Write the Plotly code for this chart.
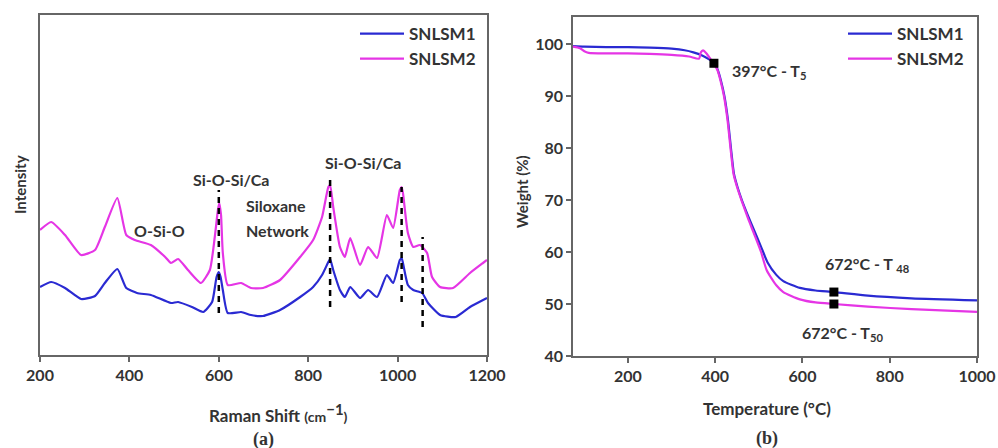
import plotly.graph_objects as go

# ---------------- Raman data (a) ----------------
raman_shift_2 = [200, 225, 256, 292, 323, 345, 373, 393, 412, 448, 480, 493, 509, 531, 560, 580, 591, 598, 601,
                 605, 609, 620, 650, 672, 699, 737, 782, 811, 831, 845, 849, 856, 871, 882, 894, 916, 934, 954,
                 976, 990, 1005, 1009, 1012, 1023, 1035, 1050, 1066, 1077, 1095, 1124, 1162, 1191, 1200]
snlsm2_int = [125, 133, 120, 100, 105, 128, 157, 120, 115, 110, 98, 92, 96, 85, 72, 85, 118, 145, 152,
              140, 102, 70, 72, 67, 67, 75, 98, 115, 138, 168, 170, 148, 108, 98, 117, 90, 108, 97,
              140, 127, 165, 168, 162, 122, 108, 110, 102, 78, 68, 67, 82, 92, 95]

raman_shift_1 = [200, 225, 256, 292, 323, 345, 373, 393, 417, 448, 493, 509, 540, 565, 585, 595, 600, 604,
                 609, 620, 650, 672, 699, 737, 782, 811, 831, 845, 849, 856, 871, 882, 894, 916, 934, 954,
                 976, 990, 1005, 1009, 1012, 1023, 1035, 1055, 1068, 1095, 1130, 1162, 1200]
snlsm1_int = [68, 73, 67, 56, 59, 72, 86, 67, 62, 60, 52, 53, 48, 43, 53, 78, 83, 78,
              65, 42, 43, 40, 39, 45, 58, 68, 80, 93, 96, 85, 65, 58, 68, 57, 65, 58,
              80, 72, 95, 97, 92, 70, 65, 62, 52, 40, 38, 48, 57]

peak_pos = [600, 849, 1009, 1056]
peak_top = [165, 178, 168, 118]
peak_bottom = [42, 48, 53, 28]

band_labels = ["O-Si-O", "Si-O-Si/Ca", "Siloxane", "Network", "Si-O-Si/Ca"]
band_x = [468, 627, 728, 732, 923]
band_y = [125, 176, 150, 125, 193]

# ---------------- TGA data (b) ----------------
temp_1 = [74, 100, 150, 200, 250, 300, 330, 350, 370, 385, 397, 405, 413, 421, 429, 436, 443, 451, 461,
          476, 491, 506, 520, 540, 556, 594, 630, 672, 750, 850, 1000]
weight_1 = [99.6, 99.5, 99.4, 99.4, 99.3, 99.1, 98.8, 98.4, 97.8, 97.1, 96.4, 95.2, 93.0, 90.0, 85.5, 80.0,
            75.0, 72.5, 70.0, 66.8, 63.8, 60.8, 58.0, 55.6, 54.4, 53.1, 52.6, 52.3, 51.6, 51.1, 50.7]

temp_2 = [74, 90, 100, 110, 150, 200, 250, 300, 340, 363, 367, 372, 380, 390, 397, 405, 412, 420, 428,
          435, 442, 450, 460, 475, 490, 505, 518, 540, 556, 594, 630, 672, 750, 850, 1000]
weight_2 = [99.5, 99.2, 98.6, 98.3, 98.2, 98.2, 98.1, 97.9, 97.6, 97.2, 98.4, 98.8, 98.2, 97.0, 96.2, 95.0,
            93.0, 90.0, 85.5, 80.0, 75.0, 72.5, 70.0, 66.5, 63.3, 60.0, 56.5, 53.6, 52.3, 50.9, 50.3, 50.0,
            49.5, 49.0, 48.5]

mark_t = [397, 672, 672]
mark_w = [96.3, 52.3, 50.0]

tga_labels = ["397°C - T<sub>5</sub>", "672°C - T <sub>48</sub>", "672°C - T<sub>50</sub>"]
tga_lx = [434, 647, 594]
tga_ly = [94.8, 57.6, 44.4]

BLUE = "#2a2ad2"
PINK = "#e535e5"
TXT = "#333333"
FONT = "Lato"

fig = go.Figure()

# Left panel
fig.add_trace(go.Scatter(x=raman_shift_1, y=snlsm1_int, mode="lines", name="SNLSM1",
                         line=dict(color=BLUE, width=2.2, shape="spline", smoothing=0.5),
                         xaxis="x", yaxis="y", legend="legend"))
fig.add_trace(go.Scatter(x=raman_shift_2, y=snlsm2_int, mode="lines", name="SNLSM2",
                         line=dict(color=PINK, width=2.2, shape="spline", smoothing=0.5),
                         xaxis="x", yaxis="y", legend="legend"))
for px, pt, pb in zip(peak_pos, peak_top, peak_bottom):
    fig.add_trace(go.Scatter(x=[px, px], y=[pb, pt], mode="lines", showlegend=False,
                             line=dict(color="black", width=2.5, dash="6px,5px"),
                             xaxis="x", yaxis="y"))

# Right panel
fig.add_trace(go.Scatter(x=temp_1, y=weight_1, mode="lines", name="SNLSM1",
                         line=dict(color=BLUE, width=2.2, shape="spline", smoothing=0.6),
                         xaxis="x2", yaxis="y2", legend="legend2"))
fig.add_trace(go.Scatter(x=temp_2, y=weight_2, mode="lines", name="SNLSM2",
                         line=dict(color=PINK, width=2.2, shape="spline", smoothing=0.6),
                         xaxis="x2", yaxis="y2", legend="legend2"))
fig.add_trace(go.Scatter(x=mark_t, y=mark_w, mode="markers", showlegend=False,
                         marker=dict(symbol="square", size=9, color="black"),
                         xaxis="x2", yaxis="y2"))

axis_common = dict(showline=True, linecolor="#666666", linewidth=1.5, mirror=True, showgrid=False,
                   zeroline=False, ticks="outside", ticklen=5, tickwidth=1.5, tickcolor="#666666",
                   automargin=False,
                   tickfont=dict(family=FONT, size=16, color=TXT, weight="bold"))

fig.update_layout(
    width=998, height=448, margin=dict(l=0, r=0, t=0, b=0, autoexpand=False),
    paper_bgcolor="white", plot_bgcolor="white",
    xaxis=dict(domain=[40/998, 487/998], range=[200, 1200], tickvals=[200, 400, 600, 800, 1000, 1200],
               anchor="y", **axis_common),
    yaxis=dict(domain=[1-355/448, 1-15/448], range=[0, 340], showticklabels=False, automargin=False,
               showline=True, linecolor="#666666", linewidth=1.5, mirror=True, showgrid=False,
               zeroline=False, ticks="", anchor="x"),
    xaxis2=dict(domain=[573/998, 977/998], range=[74, 1000], tickvals=[200, 400, 600, 800, 1000],
                anchor="y2", **axis_common),
    yaxis2=dict(domain=[1-356/448, 1-17/448], range=[40, 105.2], tickvals=[40, 50, 60, 70, 80, 90, 100],
                anchor="x2", **axis_common),
    legend=dict(x=481/998, y=1-16/448, xanchor="right", yanchor="top", bgcolor="rgba(0,0,0,0)",
                font=dict(family=FONT, size=17, color=TXT, weight="bold"), itemwidth=44,
                tracegroupgap=0),
    legend2=dict(x=969/998, y=1-16/448, xanchor="right", yanchor="top", bgcolor="rgba(0,0,0,0)",
                 font=dict(family=FONT, size=17, color=TXT, weight="bold"), itemwidth=44,
                 tracegroupgap=0),
)

ann = []
for t, x, y in zip(band_labels, band_x, band_y):
    ann.append(dict(x=x, y=y, xref="x", yref="y", text=t, showarrow=False,
                    xanchor="center", yanchor="middle",
                    font=dict(family=FONT, size=16, color=TXT, weight="bold")))
for t, x, y in zip(tga_labels, tga_lx, tga_ly):
    ann.append(dict(x=x, y=y, xref="x2", yref="y2", text=t, showarrow=False, xanchor="left",
                    yanchor="middle",
                    font=dict(family=FONT, size=16, color=TXT, weight="bold")))

# axis titles and captions
def pa(x, y, text, size, family=FONT, angle=0):
    return dict(x=x/998, y=1-y/448, xref="paper", yref="paper", showarrow=False, text=text,
                xanchor="center", yanchor="middle", textangle=angle,
                font=dict(family=family, size=size, color=TXT, weight="bold"))

ann += [
    pa(278, 413, "Raman Shift <span style='font-size:14px'>(cm</span><sup><span style='font-size:15px'>−1</span></sup><span style='font-size:14px'>)</span>", 17),
    pa(263, 439, "(a)", 18, family="Liberation Serif"),
    pa(20, 185, "Intensity", 15, angle=-90),
    pa(767, 408, "Temperature (°C)", 17),
    pa(767, 438, "(b)", 18, family="Liberation Serif"),
    pa(522, 192, "Weight (%)", 15, angle=-90),
]
fig.update_layout(annotations=ann)

fig.write_html("out.html")
